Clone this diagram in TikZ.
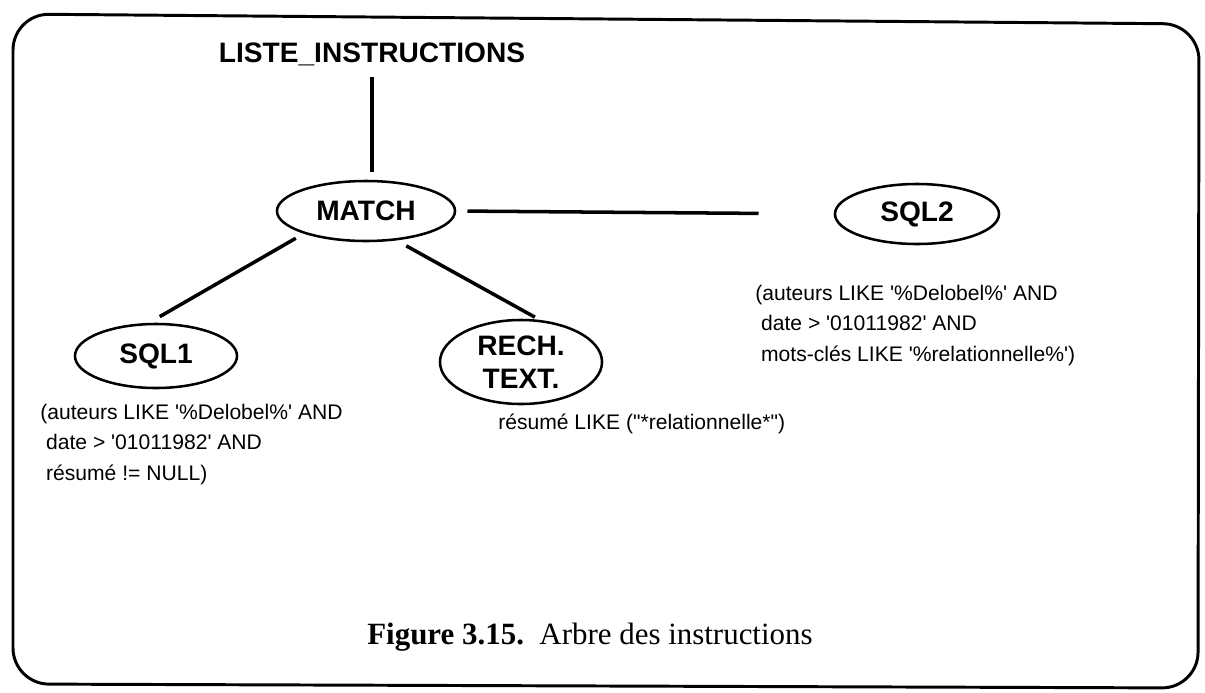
\documentclass[tikz,border=0pt]{standalone}
\usepackage{fontspec}
\setmainfont{Liberation Serif}
\setsansfont{Liberation Sans}
\usetikzlibrary{shapes.geometric}

\newcommand{\sq}{\textquotesingle}
\newcommand{\dq}{\textquotedbl}

\tikzset{
  op/.style={draw,ellipse,line width=1.8pt,inner sep=0pt,align=center,
    font=\sffamily\bfseries\fontsize{20}{23.4}\selectfont},
  cond/.style={anchor=north west,inner sep=0pt,align=left,
    font=\sffamily\fontsize{15}{21.5}\selectfont},
  branch/.style={line width=2.5pt},
}

\begin{document}
\begin{tikzpicture}[x=0.025cm,y=-0.025cm]
	\useasboundingbox (0,0) rectangle (1205,692);
	\draw[line width=2.1pt,rounded corners=0.9cm] (13,14) -- (1199,24) -- (1198,688) -- (13,684) -- cycle;
	% arbre
	\node[inner sep=0pt,font=\sffamily\bfseries\fontsize{20}{23.4}\selectfont] (liste) at (372,54) {LISTE\_INSTRUCTIONS};
	\node[op,minimum width=4.45cm,minimum height=1.5cm] (match) at (366,211) {MATCH};
	\node[op,minimum width=4.1cm,minimum height=1.5cm] (sql2) at (917,214) {SQL2};
	\node[op,minimum width=4.05cm,minimum height=1.6cm] (sql1) at (156,356) {SQL1};
	\node[op,minimum width=4.05cm,minimum height=2.1cm] (rech) at (521,362) {RECH.\\TEXT.};
	\draw[branch,shorten <=0.28cm,shorten >=0.2cm] (liste.south) -- (liste.south |- match.north);
	\draw[branch,shorten <=0.28cm,shorten >=1.88cm] (match.east) -- (sql2.west);
	\draw[branch,shorten <=0.23cm,shorten >=0.31cm] (match.200) -- (sql1.102);
	\draw[branch,shorten <=0.28cm,shorten >=0.14cm] (match.316) -- (rech.66);
	% conditions
	\node[cond] (cond1) at (40,404) {(auteurs LIKE \sq\%Delobel\%\sq{} AND\\ \ date > \sq01011982\sq{} AND\\ \ résumé != NULL)};
	\node[cond] (cond2) at (755,285) {(auteurs LIKE \sq\%Delobel\%\sq{} AND\\ \ date > \sq01011982\sq{} AND\\ \ mots-clés LIKE \sq\%relationnelle\%\sq)};
	\node[cond] (cond3) at (498,414) {résumé LIKE (\dq*relationnelle*\dq)};
	\node[font=\fontsize{22}{24}\selectfont] (legende) at (590,637) {\textbf{Figure 3.15.}\ \ Arbre des instructions};
\end{tikzpicture}
\end{document}
